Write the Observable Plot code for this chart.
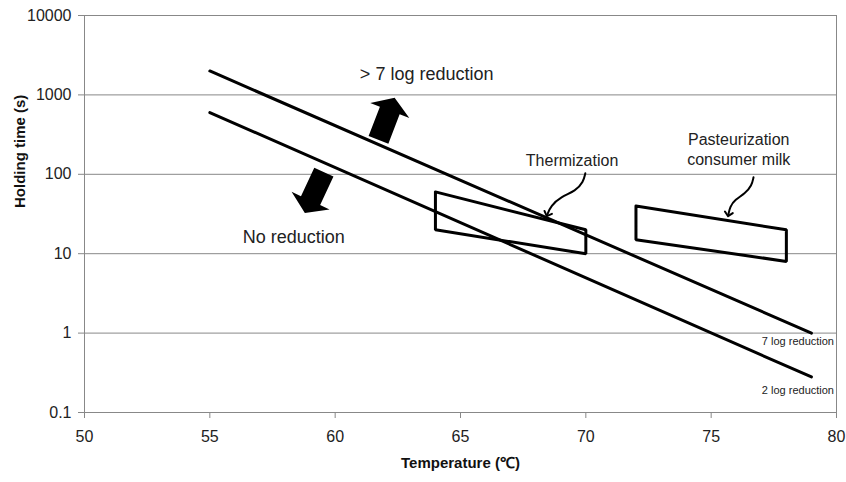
<!DOCTYPE html>
<html>
<head>
<meta charset="utf-8">
<script src="https://cdn.jsdelivr.net/npm/d3@7"></script>
<script src="https://cdn.jsdelivr.net/npm/@observablehq/plot@0.6"></script>
<style>
  html, body { margin: 0; padding: 0; background: #fff; }
</style>
</head>
<body>
<div id="chart"></div>
<script>
// ---- data ----
const tempTicks = [50, 55, 60, 65, 70, 75, 80];
const timeTicks = [0.1, 1, 10, 100, 1000, 10000];
const timeTickLabels = ["0.1", "1", "10", "100", "1000", "10000"];

const lineTemp = [55, 79];
const log7Time = [2000, 1];
const log2Time = [600, 0.28];

const thermTemp = [64, 70, 70, 64, 64];
const thermTime = [60, 20, 10, 20, 60];
const pastTemp = [72, 78, 78, 72, 72];
const pastTime = [40, 20, 8, 15, 40];

const bigText = ["> 7 log reduction", "No reduction"];
const bigTemp = [63.65, 58.35];
const bigTime = [1800, 16];

const midText = ["Thermization", "Pasteurization\nconsumer milk"];
const midTemp = [69.45, 76.1];
const midTime = [152, 210];

const smallText = ["7 log reduction", "2 log reduction"];
const smallTemp = [79.9, 79.9];
const smallTime = [0.79, 0.19];

const blockTemp = [62.05, 59.17];
const blockTime = [499, 59];
const blockRotate = [21, 205];

const curlThermTemp = [69.98, 69.9, 69.6, 69.0, 68.6, 68.47];
const curlThermTime = [103, 80, 62, 52, 40, 31.4];
const curlPastTemp = [76.69, 76.62, 76.35, 75.95, 75.75, 75.69];
const curlPastTime = [92, 72, 57, 48, 39, 31.4];

// ---- build tables ----
const zip = (xs, ys) => xs.map((x, i) => ({x, y: ys[i]}));
const lines = [
  ...zip(lineTemp, log7Time).map(d => ({...d, k: "7"})),
  ...zip(lineTemp, log2Time).map(d => ({...d, k: "2"}))
];
const boxes = [
  ...zip(thermTemp, thermTime).map(d => ({...d, k: "therm"})),
  ...zip(pastTemp, pastTime).map(d => ({...d, k: "past"}))
];
const bigLabels = bigText.map((t, i) => ({t, x: bigTemp[i], y: bigTime[i]}));
const midLabels = midText.map((t, i) => ({t, x: midTemp[i], y: midTime[i]}));
const smalls = smallText.map((t, i) => ({t, x: smallTemp[i], y: smallTime[i]}));
const blocks = blockTemp.map((x, i) => ({x, y: blockTime[i], r: blockRotate[i]}));

const blockArrow = {
  draw(ctx, size) {
    const r = Math.sqrt(size / Math.PI);
    ctx.moveTo(0, -1 * r);
    ctx.lineTo(0.93 * r, -0.4 * r);
    ctx.lineTo(0.47 * r, -0.4 * r);
    ctx.lineTo(0.47 * r, 1 * r);
    ctx.lineTo(-0.47 * r, 1 * r);
    ctx.lineTo(-0.47 * r, -0.4 * r);
    ctx.lineTo(-0.93 * r, -0.4 * r);
    ctx.closePath();
  }
};

const font = "'Liberation Sans', Arial, Helvetica, sans-serif";
const grey = "#888";

const chart = Plot.plot({
  width: 846,
  height: 482,
  marginLeft: 84,
  marginRight: 10,
  marginTop: 15,
  marginBottom: 70,
  style: {fontFamily: font, fontSize: "16px", color: "#000", background: "#fff"},
  x: {domain: [50, 80]},
  y: {type: "log", domain: [0.1, 10000]},
  marks: [
    Plot.ruleY(timeTicks, {stroke: grey, strokeWidth: 1}),
    Plot.ruleX([50, 80], {stroke: grey, strokeWidth: 1}),
    Plot.axisY({ticks: timeTicks, tickFormat: d => timeTickLabels[timeTicks.indexOf(d)], tickSize: 6, tickPadding: 7, stroke: grey, fill: "#222", label: null, fontSize: 16}),
    Plot.axisX({ticks: tempTicks, tickSize: 6, tickPadding: 12, stroke: grey, fill: "#222", label: null, fontSize: 16}),
    Plot.line(lines, {x: "x", y: "y", z: "k", stroke: "#000", strokeWidth: 3}),
    Plot.line(boxes, {x: "x", y: "y", z: "k", stroke: "#000", strokeWidth: 3, strokeLinejoin: "miter"}),
    Plot.line(zip(curlThermTemp, curlThermTime), {x: "x", y: "y", curve: "basis", stroke: "#000", strokeWidth: 2, markerEnd: "arrow"}),
    Plot.line(zip(curlPastTemp, curlPastTime), {x: "x", y: "y", curve: "basis", stroke: "#000", strokeWidth: 2, markerEnd: "arrow"}),
    Plot.dot(blocks, {x: "x", y: "y", r: 22.5, rotate: "r", symbol: blockArrow, fill: "#000", stroke: "none"}),
    Plot.text(bigLabels, {x: "x", y: "y", text: "t", textAnchor: "middle", fontSize: 18, fill: "#222"}),
    Plot.text(midLabels, {x: "x", y: "y", text: "t", textAnchor: "middle", fontSize: 16, lineHeight: 1.25, fill: "#222"}),
    Plot.text(smalls, {x: "x", y: "y", text: "t", textAnchor: "end", fontSize: 11, fill: "#222"}),
    Plot.text(["Temperature (\u2103)"], {frameAnchor: "bottom", dy: 55, text: d => d, fontWeight: "bold", fontSize: 15, fill: "#111"}),
    Plot.text(["Holding time (s)"], {frameAnchor: "left", dx: -64, dy: -6, rotate: -90, text: d => d, fontWeight: "bold", fontSize: 15, fill: "#111"})
  ]
});
document.getElementById("chart").appendChild(chart);
</script>
</body>
</html>
